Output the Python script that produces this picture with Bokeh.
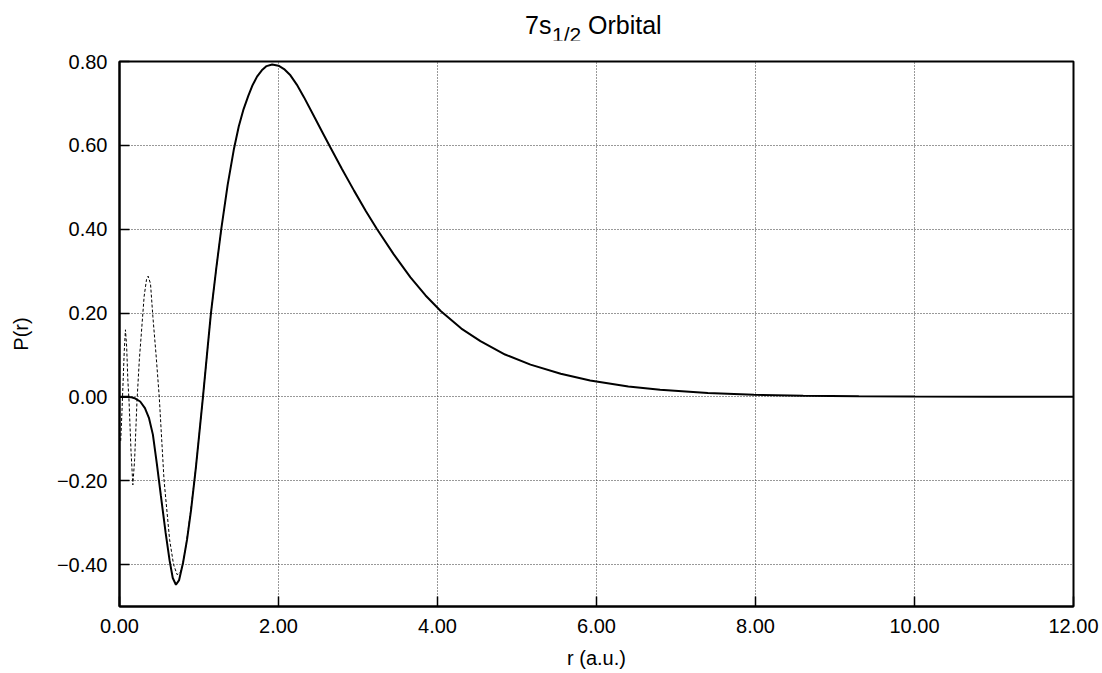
from bokeh.plotting import figure
from bokeh.models import Range1d, FixedTicker, Div
from bokeh.layouts import column
from bokeh.embed import file_html
from bokeh.resources import INLINE

# ---- data ----
r_large = [0.0, 0.05, 0.10, 0.15, 0.20, 0.26, 0.32, 0.37, 0.42, 0.47, 0.52, 0.58,
           0.63, 0.67, 0.71, 0.75, 0.80, 0.85, 0.90, 0.96, 1.00, 1.05, 1.10, 1.15,
           1.22, 1.28, 1.36, 1.44, 1.50, 1.56, 1.62, 1.67, 1.73, 1.79, 1.85, 1.92,
           2.00, 2.07, 2.15, 2.23, 2.32, 2.45, 2.55, 2.65, 2.80, 2.95, 3.10, 3.24,
           3.45, 3.66, 3.85, 4.04, 4.30, 4.54, 4.85, 5.17, 5.55, 5.92, 6.40, 6.80,
           7.40, 7.98, 8.60, 9.30, 10.0, 11.0, 12.0]
p_large = [0.0, 0.0, 0.0, -0.001, -0.004, -0.011, -0.027, -0.050, -0.090, -0.160,
           -0.235, -0.324, -0.390, -0.432, -0.448, -0.437, -0.395, -0.340, -0.270,
           -0.170, -0.095, 0.000, 0.100, 0.199, 0.311, 0.400, 0.505, 0.592, 0.645,
           0.686, 0.718, 0.742, 0.764, 0.779, 0.789, 0.793, 0.790, 0.782, 0.767,
           0.745, 0.715, 0.668, 0.632, 0.596, 0.543, 0.492, 0.443, 0.400, 0.340,
           0.285, 0.242, 0.205, 0.163, 0.133, 0.101, 0.077, 0.055, 0.039, 0.025,
           0.017, 0.009, 0.005, 0.003, 0.0015, 0.0008, 0.0003, 0.0001]

r_small = [0.015, 0.03, 0.045, 0.06, 0.075, 0.09, 0.105, 0.12, 0.145, 0.168, 0.19,
           0.22, 0.25, 0.275, 0.31, 0.34, 0.36, 0.39, 0.42, 0.46, 0.50, 0.56, 0.63,
           0.68, 0.725, 0.76, 0.79, 0.84, 0.89, 0.96, 1.00, 1.05, 1.10, 1.15, 1.22,
           1.28]
p_small = [-0.105, -0.04, 0.035, 0.11, 0.160, 0.12, 0.04, -0.01, -0.13, -0.210,
           -0.15, -0.01, 0.09, 0.152, 0.240, 0.280, 0.288, 0.270, 0.191, 0.10,
           0.000, -0.198, -0.340, -0.400, -0.424, -0.420, -0.405, -0.350, -0.280,
           -0.170, -0.095, 0.000, 0.100, 0.199, 0.311, 0.400]

x_ticks = [0, 2, 4, 6, 8, 10, 12]
x_tick_labels = ["0.00", "2.00", "4.00", "6.00", "8.00", "10.00", "12.00"]
y_ticks = [-0.4, -0.2, 0.0, 0.2, 0.4, 0.6, 0.8]
y_tick_labels = ["\u22120.40", "\u22120.20", "0.00", "0.20", "0.40", "0.60", "0.80"]

title_main = "7s"
title_sub = "1/2"
title_rest = "Orbital"
x_label = "r (a.u.)"
y_label = "P(r)"

FONT = "Liberation Sans"
TITLE_H = 40

title_html = (
    '<div style="position:relative;width:1102px;height:%dpx;'
    'font-family:\'Liberation Sans\',Arial,sans-serif;color:#000;">'
    '<span style="position:absolute;left:525px;top:13px;font-size:25px;line-height:25px;white-space:nowrap;">%s</span>'
    '<span style="position:absolute;left:552px;top:24px;font-size:21px;line-height:21px;white-space:nowrap;">%s</span>'
    '<span style="position:absolute;left:588px;top:13px;font-size:25px;line-height:25px;white-space:nowrap;">%s</span>'
    '</div>' % (TITLE_H, title_main, title_sub, title_rest)
)
title_div = Div(text=title_html, width=1102, height=TITLE_H, margin=0)

p = figure(width=1102, height=673 - TITLE_H, output_backend="svg", toolbar_location=None,
           x_range=Range1d(0, 12), y_range=Range1d(-0.5, 0.8), margin=0,
           min_border_left=119, min_border_right=29, min_border_top=61 - TITLE_H,
           min_border_bottom=67)
p.background_fill_color = "white"
p.border_fill_color = "white"
p.outline_line_color = "black"
p.outline_line_width = 2

for ax, ticks, labels in ((p.xaxis[0], x_ticks, x_tick_labels), (p.yaxis[0], y_ticks, y_tick_labels)):
    ax.ticker = FixedTicker(ticks=ticks)
    ax.major_label_overrides = {t: l for t, l in zip(ticks, labels)}
    ax.major_tick_in = 10
    ax.major_tick_out = 0
    ax.minor_tick_in = 0
    ax.minor_tick_out = 0
    ax.major_tick_line_color = "black"
    ax.major_tick_line_width = 1.5
    ax.axis_line_color = "black"
    ax.axis_line_width = 2
    ax.major_label_text_font = FONT
    ax.major_label_text_font_size = "20px"
    ax.major_label_text_color = "black"
    ax.axis_label_text_font = FONT
    ax.axis_label_text_font_size = "20px"
    ax.axis_label_text_font_style = "normal"
    ax.axis_label_text_color = "black"

p.xaxis.axis_label = x_label
p.yaxis.axis_label = y_label
p.xaxis.major_label_standoff = 12
p.xaxis.axis_label_standoff = 11
p.yaxis.major_label_standoff = 12
p.yaxis.axis_label_standoff = 22

for g, ticks in ((p.xgrid[0], x_ticks), (p.ygrid[0], y_ticks)):
    g.ticker = FixedTicker(ticks=ticks)
    g.grid_line_color = "#333333"
    g.grid_line_width = 1
    g.grid_line_dash = "1 2"

p.line(r_small, p_small, line_color="black", line_width=1, line_dash="3 2")
p.line(r_large, p_large, line_color="black", line_width=2)

layout = column(title_div, p, spacing=0, margin=0)
open("out.html", "w").write(file_html(layout, INLINE))
